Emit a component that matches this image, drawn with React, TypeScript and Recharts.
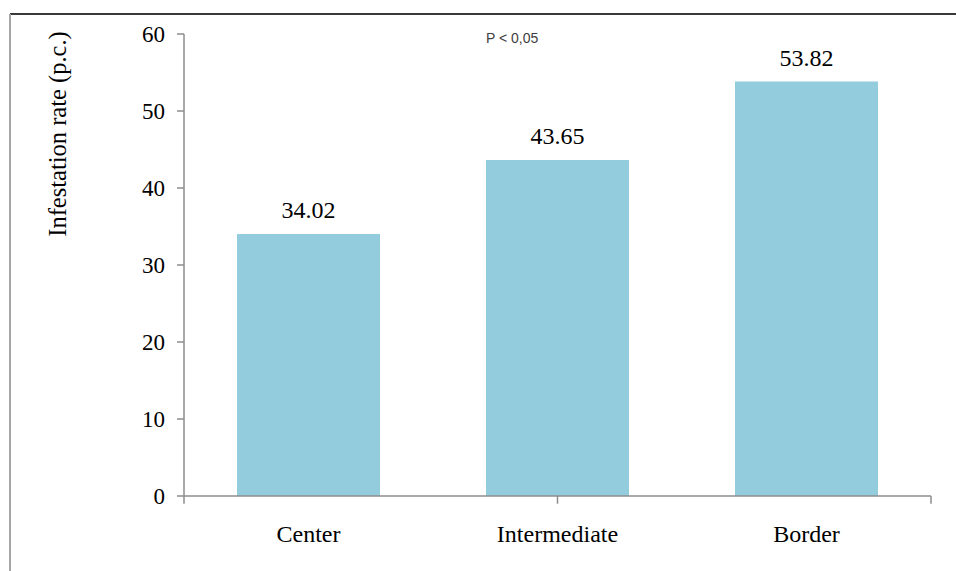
import React from 'react';
import { BarChart, Bar, XAxis, YAxis, LabelList, ReferenceLine } from 'recharts';

const categories = ['Center', 'Intermediate', 'Border'];
const rates = [34.02, 43.65, 53.82];
const yTicks = [0, 10, 20, 30, 40, 50, 60];
const edgeTicks = [0, 1, 2, 3];
const yLabel = 'Infestation rate (p.c.)';
const note = 'P < 0,05';

const data = categories.map((c, i) => ({ name: c, rate: rates[i] }));

const SERIF = '"Liberation Serif", "Times New Roman", serif';
const AXIS = '#8c8c8c';

const ValueLabel = (props: any) => {
  const { x, y, width, value } = props;
  return (
    <text
      x={Number(x) + Number(width) / 2}
      y={Number(y) - 16}
      textAnchor="middle"
      style={{ fontFamily: SERIF, fontSize: 24, fill: '#000' }}
    >
      {Number(value).toFixed(2)}
    </text>
  );
};

const CatTick = (props: any) => {
  const { x, y, payload } = props;
  return (
    <text
      x={x}
      y={Number(y) + 46}
      textAnchor="middle"
      style={{ fontFamily: SERIF, fontSize: 24, fill: '#000' }}
    >
      {payload.value}
    </text>
  );
};

export default function App() {
  return (
    <div
      style={{
        position: 'absolute',
        left: 0,
        top: 0,
        width: 956,
        height: 571,
        background: '#fff',
        fontFamily: SERIF,
      }}
    >
      <div style={{ position: 'absolute', left: 10, top: 13, width: 946, height: 0, borderTop: '2px solid #3a3a3a' }} />
      <div style={{ position: 'absolute', left: 9, top: 14, width: 0, height: 557, borderLeft: '2px solid #a6a6a6' }} />
      <div
        style={{
          position: 'absolute',
          left: 486,
          top: 30,
          fontFamily: '"Liberation Sans", Arial, sans-serif',
          fontSize: 14,
          color: '#404040',
          lineHeight: '16px',
          whiteSpace: 'nowrap',
        }}
      >
        {note}
      </div>
      <BarChart
        width={956}
        height={571}
        data={data}
        margin={{ top: 34, right: 25, bottom: 0, left: 0 }}
        style={{ position: 'absolute', left: 0, top: 0, fontFamily: SERIF }}
      >
        <XAxis
          dataKey="name"
          height={75}
          axisLine={{ stroke: AXIS, strokeWidth: 1.5 }}
          tickLine={false}
          tickSize={0}
          tickMargin={0}
          tick={<CatTick />}
        />
        <XAxis xAxisId="edges" type="number" domain={[0, 3]} ticks={edgeTicks} hide />
        <YAxis
          width={184}
          domain={[0, 60]}
          ticks={yTicks}
          interval={0}
          axisLine={{ stroke: AXIS, strokeWidth: 1.5 }}
          tickLine={{ stroke: AXIS, strokeWidth: 1.5 }}
          tickSize={7}
          tickMargin={12}
          tick={{ fill: '#000', fontFamily: SERIF, fontSize: 23 }}
          label={{
            content: () => (
              <text
                x={66}
                y={134}
                transform="rotate(-90 66 134)"
                textAnchor="middle"
                style={{ fontFamily: SERIF, fontSize: 24.5, fill: '#000' }}
              >
                {yLabel}
              </text>
            ),
          }}
        />
        {edgeTicks.map((t) => (
          <ReferenceLine
            key={t}
            xAxisId="edges"
            ifOverflow="visible"
            segment={[
              { x: t, y: 0 },
              { x: t, y: -1 },
            ]}
            stroke={AXIS}
            strokeWidth={1.5}
          />
        ))}
        <Bar dataKey="rate" fill="#93CDDD" barSize={143} isAnimationActive={false}>
          <LabelList dataKey="rate" content={<ValueLabel />} />
        </Bar>
      </BarChart>
    </div>
  );
}
